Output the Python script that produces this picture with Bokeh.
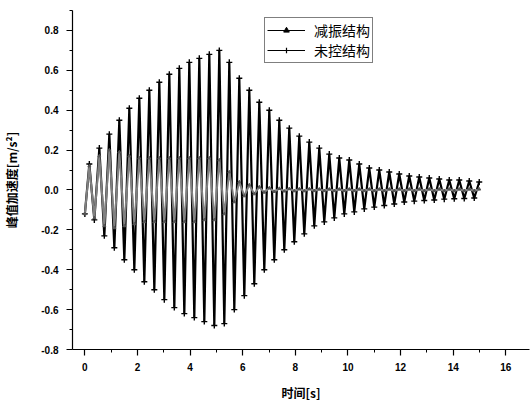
from bokeh.plotting import figure
from bokeh.models import (Range1d, FixedTicker, Legend, LegendItem,
                          ColumnDataSource, PrintfTickFormatter)
from bokeh.embed import file_html
from bokeh.resources import INLINE

# ---- data (extremes of each half-cycle) ----
t = [0.00, 0.17, 0.36, 0.55, 0.74, 0.93, 1.12, 1.31, 1.50, 1.69, 1.88, 2.07,
     2.26, 2.45, 2.64, 2.83, 3.02, 3.21, 3.40, 3.59, 3.78, 3.97, 4.16, 4.35,
     4.54, 4.73, 4.92, 5.11, 5.30, 5.49, 5.68, 5.87, 6.06, 6.25, 6.44, 6.63,
     6.82, 7.01, 7.20, 7.39, 7.58, 7.77, 7.96, 8.15, 8.34, 8.53, 8.72, 8.91,
     9.10, 9.29, 9.48, 9.67, 9.86, 10.05, 10.24, 10.43, 10.62, 10.81, 11.00,
     11.19, 11.38, 11.57, 11.76, 11.95, 12.14, 12.33, 12.52, 12.71, 12.90,
     13.09, 13.28, 13.47, 13.66, 13.85, 14.04, 14.23, 14.42, 14.61, 14.80,
     14.99]

uncontrolled = [-0.12, 0.13, -0.15, 0.21, -0.23, 0.28, -0.29, 0.35, -0.35,
                0.41, -0.40, 0.46, -0.46, 0.50, -0.50, 0.54, -0.55, 0.58,
                -0.59, 0.61, -0.62, 0.64, -0.64, 0.66, -0.66, 0.68, -0.68,
                0.70, -0.67, 0.64, -0.60, 0.56, -0.53, 0.50, -0.47, 0.44,
                -0.40, 0.40, -0.35, 0.35, -0.30, 0.31, -0.26, 0.27, -0.22,
                0.24, -0.18, 0.21, -0.16, 0.18, -0.14, 0.16, -0.12, 0.15,
                -0.11, 0.13, -0.095, 0.11, -0.086, 0.10, -0.078, 0.09, -0.07,
                0.08, -0.06, 0.07, -0.056, 0.065, -0.053, 0.06, -0.05, 0.055,
                -0.046, 0.05, -0.044, 0.05, -0.043, 0.045, -0.04, 0.04]

controlled = [-0.12, 0.12, -0.14, 0.17, -0.18, 0.20, -0.19, 0.19, -0.18,
              0.17, -0.17, 0.16, -0.16, 0.16, -0.16, 0.16, -0.16, 0.16,
              -0.16, 0.16, -0.16, 0.16, -0.16, 0.16, -0.15, 0.16, -0.15,
              0.15, -0.12, 0.09, -0.06, 0.04, -0.03, 0.025, -0.02, 0.015,
              -0.012, 0.01, -0.008, 0.007, -0.006, 0.006, -0.005, 0.005,
              -0.005, 0.005, -0.004, 0.004, -0.004, 0.004, -0.004, 0.004,
              -0.004, 0.004, -0.004, 0.004, -0.004, 0.004, -0.004, 0.004,
              -0.004, 0.004, -0.004, 0.004, -0.004, 0.004, -0.004, 0.004,
              -0.004, 0.004, -0.004, 0.004, -0.004, 0.004, -0.004, 0.004,
              -0.004, 0.004, -0.004, 0.004]

x_ticks = [0, 2, 4, 6, 8, 10, 12, 14, 16]
x_minor = [1, 3, 5, 7, 9, 11, 13, 15]
y_ticks = [-0.8, -0.6, -0.4, -0.2, 0.0, 0.2, 0.4, 0.6, 0.8]
y_minor = [-0.7, -0.5, -0.3, -0.1, 0.1, 0.3, 0.5, 0.7, 0.9]

series_labels = ["减振结构", "未控结构"]
x_label = "时间[s]"
y_label = "峰值加速度[m/s²]"

CJK = "Noto Sans CJK SC"

p = figure(width=531, height=403, output_backend="svg", toolbar_location=None,
           x_range=Range1d(-0.47, 16.9), y_range=Range1d(-0.80, 0.90),
           min_border_left=71, min_border_right=2, min_border_top=10,
           min_border_bottom=54)
p.grid.visible = False
p.outline_line_color = None
p.background_fill_color = "white"
p.border_fill_color = "white"

src = ColumnDataSource(dict(t=t, u=uncontrolled, c=controlled))

p.line("t", "u", source=src, line_color="black", line_width=2.2)
p.scatter("t", "u", source=src, marker="cross", size=6, line_color="black",
          line_width=1.4)
p.line("t", "c", source=src, line_color="#808080", line_width=2.0)
p.scatter("t", "c", source=src, marker="triangle", size=3,
          line_color="#555555", fill_color="#555555")

# legend-only renderers (no visible data) so legend glyphs are black
nan = float("nan")
empty = ColumnDataSource(dict(x=[nan], y=[nan]))
l1 = p.line("x", "y", source=empty, line_color="black", line_width=1)
m1 = p.scatter("x", "y", source=empty, marker="triangle", size=3,
               line_color="black", fill_color="black")
l2 = p.line("x", "y", source=empty, line_color="black", line_width=1)
m2 = p.scatter("x", "y", source=empty, marker="cross", size=5,
               line_color="black", line_width=1.2)

legend = Legend(items=[LegendItem(label=series_labels[0], renderers=[l1, m1]),
                       LegendItem(label=series_labels[1], renderers=[l2, m2])],
                location=(192, 286), orientation="vertical",
                padding=2, spacing=0, margin=0,
                glyph_width=38, glyph_height=14, label_height=14,
                label_standoff=9,
                label_text_font=CJK,
                label_text_font_size="14px",
                label_text_color="black",
                border_line_color="black", border_line_width=1.2,
                background_fill_color="white", background_fill_alpha=1)
p.add_layout(legend)

for ax in (p.xaxis[0], p.yaxis[0]):
    ax.axis_line_color = "black"
    ax.axis_line_width = 1.2
    ax.major_tick_line_color = "black"
    ax.minor_tick_line_color = "black"
    ax.major_tick_line_width = 1.2
    ax.major_tick_out = 6
    ax.major_tick_in = 0
    ax.minor_tick_out = 3
    ax.minor_tick_in = 0
    ax.major_label_text_font = "Liberation Sans"
    ax.major_label_text_font_size = "10px"
    ax.major_label_text_font_style = "bold"
    ax.major_label_text_color = "black"
    ax.axis_label_text_font = CJK
    ax.axis_label_text_font_size = "12px"
    ax.axis_label_text_font_style = "bold"
    ax.axis_label_text_color = "black"

p.xaxis.ticker = FixedTicker(ticks=x_ticks, minor_ticks=x_minor)
p.yaxis.ticker = FixedTicker(ticks=y_ticks, minor_ticks=y_minor)
p.yaxis.formatter = PrintfTickFormatter(format="%.1f")
p.xaxis.major_label_standoff = 7
p.yaxis.major_label_standoff = 8
p.xaxis.axis_label = x_label
p.yaxis.axis_label = y_label
p.xaxis.axis_label_standoff = 10
p.yaxis.axis_label_standoff = 18

open("out.html", "w").write(file_html(p, INLINE))
